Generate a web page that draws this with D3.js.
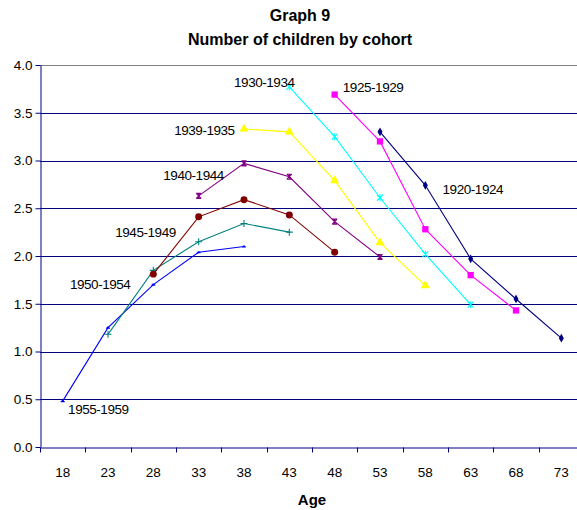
<!DOCTYPE html>
<html>
<head>
<meta charset="utf-8">
<script src="https://cdn.jsdelivr.net/npm/d3@7"></script>
<style>
  body { margin: 0; background: #fff; }
  svg { display: block; font-family: Arial, "Liberation Sans", sans-serif; }
</style>
</head>
<body>
<div id="chart"></div>
<script>
// Graph 9 - number of children by cohort

const ages = [18, 23, 28, 33, 38, 43, 48, 53, 58, 63, 68, 73];
const yTicks = [0, 0.5, 1, 1.5, 2, 2.5, 3, 3.5, 4];

// each cohort: values for ages, null where no value
const c1955 = [0.48, 1.25, 1.70, 2.04, 2.10, null, null, null, null, null, null, null];
const c1950 = [null, 1.18, 1.85, 2.15, 2.34, 2.25, null, null, null, null, null, null];
const c1945 = [null, null, 1.81, 2.41, 2.59, 2.43, 2.04, null, null, null, null, null];
const c1940 = [null, null, null, 2.63, 2.97, 2.83, 2.36, 1.99, null, null, null, null];
const c1935 = [null, null, null, null, 3.33, 3.30, 2.79, 2.14, 1.69, null, null, null];
const c1930 = [null, null, null, null, null, 3.77, 3.25, 2.61, 2.02, 1.49, null, null];
const c1925 = [null, null, null, null, null, null, 3.69, 3.20, 2.28, 1.80, 1.43, null];
const c1920 = [null, null, null, null, null, null, null, 3.30, 2.74, 1.97, 1.55, 1.14];

const series = [
    { name: "1955-1959", values: c1955, color: "#0000ff", marker: "dash" },
    { name: "1950-1954", values: c1950, color: "#008080", marker: "plus" },
    { name: "1945-1949", values: c1945, color: "#800000", marker: "circle" },
    { name: "1940-1944", values: c1940, color: "#800080", marker: "star" },
    { name: "1939-1935", values: c1935, color: "#ffff00", marker: "triangle" },
    { name: "1930-1934", values: c1930, color: "#00ffff", marker: "cross" },
    { name: "1925-1929", values: c1925, color: "#ff00ff", marker: "square" },
    { name: "1920-1924", values: c1920, color: "#000080", marker: "diamond" }
];

// label anchors in data space (age, value) = start of text, baseline
const labels = [
    { text: "1930-1934", age: 36.9, v: 3.77 },
    { text: "1925-1929", age: 48.9, v: 3.72 },
    { text: "1939-1935", age: 30.3, v: 3.27 },
    { text: "1940-1944", age: 29.1, v: 2.80 },
    { text: "1945-1949", age: 23.8, v: 2.20 },
    { text: "1950-1954", age: 18.8, v: 1.65 },
    { text: "1955-1959", age: 18.6, v: 0.35 },
    { text: "1920-1924", age: 59.9, v: 2.65 }
];

const width = 577, height = 510;
const margin = { top: 65, right: -7, bottom: 63, left: 40 };
const plotW = width - margin.left - margin.right;
const plotH = height - margin.top - margin.bottom;

const svg = d3.select("#chart").append("svg")
    .attr("width", width)
    .attr("height", height);

const x = d3.scaleBand().domain(ages).range([0, plotW]);
const xc = a => x(a) + x.bandwidth() / 2;
// continuous age position for labels
const xAge = d3.scaleLinear().domain([ages[0], ages[ages.length - 1]]).range([xc(ages[0]), xc(ages[ages.length - 1])]);
const y = d3.scaleLinear().domain([0, 4]).range([plotH, 0]);

const g = svg.append("g").attr("transform", `translate(${margin.left},${margin.top})`);

// Title
svg.append("text")
    .attr("x", 300).attr("y", 21)
    .attr("text-anchor", "middle")
    .style("font-size", "16px").style("font-weight", "bold")
    .text("Graph 9");
svg.append("text")
    .attr("x", 300).attr("y", 45)
    .attr("text-anchor", "middle")
    .style("font-size", "16px").style("font-weight", "bold")
    .text("Number of children by cohort");

// Gridlines
g.append("g")
    .selectAll("line")
    .data(yTicks.filter(t => t > 0 && t < 4))
    .enter().append("line")
    .attr("x1", 0).attr("x2", plotW)
    .attr("y1", d => Math.round(y(d)) + 0.5).attr("y2", d => Math.round(y(d)) + 0.5)
    .attr("stroke", "#000080").attr("stroke-width", 1);

// top border
g.append("line")
    .attr("x1", 0).attr("x2", plotW)
    .attr("y1", 0.5).attr("y2", 0.5)
    .attr("stroke", "#808080");

// Y axis
const yAxis = g.append("g")
    .attr("transform", "translate(0.5,0)")
    .call(d3.axisLeft(y).tickValues(yTicks).tickFormat(d3.format(".1f")).tickSize(5).tickPadding(3).tickSizeOuter(0))
    .style("font-family", "Arial, 'Liberation Sans', sans-serif")
    .style("font-size", "13.5px");
yAxis.select(".domain").attr("stroke", "#000080");
yAxis.selectAll(".tick line").attr("stroke", "#000080");
yAxis.selectAll(".tick text").attr("fill", "#000");

// X axis
const xAxis = g.append("g")
    .attr("transform", `translate(0,${plotH + 0.5})`)
    .call(d3.axisBottom(x).tickSize(0).tickPadding(20).tickSizeOuter(0))
    .style("font-family", "Arial, 'Liberation Sans', sans-serif")
    .style("font-size", "13.5px");
xAxis.select(".domain").attr("stroke", "#000080");
xAxis.selectAll(".tick text").attr("fill", "#000");
xAxis.selectAll(".sep")
    .data(ages)
    .enter().append("line")
    .attr("class", "sep")
    .attr("x1", d => Math.round(x(d)) + 0.5).attr("x2", d => Math.round(x(d)) + 0.5)
    .attr("y1", 0).attr("y2", 5)
    .attr("stroke", "#000080");

// Axis title
svg.append("text")
    .attr("x", 312).attr("y", 505)
    .attr("text-anchor", "middle")
    .style("font-size", "15px").style("font-weight", "bold")
    .text("Age");

// Lines
const line = d3.line()
    .defined(d => d.v !== null)
    .x(d => xc(d.age))
    .y(d => y(d.v));

function markerPath(type) {
    switch (type) {
        case "dash": return "M-2,0.5L2,0.5M-1,-0.5L1,-0.5";
        case "plus": return "M-3.5,0L3.5,0M0,-3.5L0,3.5";
        case "star": return "M-2.5,-2.5L2.5,2.5M-2.5,2.5L2.5,-2.5M0,-2.5L0,2.5M-2.5,-2.5L2.5,-2.5M-2.5,2.5L2.5,2.5";
        case "cross": return "M-3,-3L3,3M-3,3L3,-3M0,-3.5L0,3.5";
        default: return null;
    }
}

series.forEach(s => {
    const pts = ages.map((a, i) => ({ age: a, v: s.values[i] }));
    const sg = g.append("g");
    sg.append("path")
        .datum(pts)
        .attr("fill", "none")
        .attr("stroke", s.color)
        .attr("stroke-width", 1.1)
        .attr("d", line);

    const dots = pts.filter(d => d.v !== null);
    const m = sg.selectAll(".m")
        .data(dots)
        .enter().append("path")
        .attr("class", "m")
        .attr("transform", d => `translate(${xc(d.age)},${y(d.v)})`);

    if (s.marker === "circle") {
        m.attr("d", d3.symbol(d3.symbolCircle, 38)()).attr("fill", s.color);
    } else if (s.marker === "square") {
        m.attr("d", d3.symbol(d3.symbolSquare, 40)()).attr("fill", s.color);
    } else if (s.marker === "triangle") {
        m.attr("d", d3.symbol(d3.symbolTriangle, 36)()).attr("fill", s.color);
    } else if (s.marker === "diamond") {
        m.attr("d", d3.symbol(d3.symbolDiamond, 22)()).attr("fill", s.color);
    } else {
        m.attr("d", markerPath(s.marker))
            .attr("fill", "none")
            .attr("stroke", s.color)
            .attr("stroke-width", 1.1);
    }
});

// Cohort labels
g.selectAll(".lbl")
    .data(labels)
    .enter().append("text")
    .attr("class", "lbl")
    .attr("x", d => xAge(d.age))
    .attr("y", d => y(d.v))
    .style("font-size", "13.5px")
    .style("letter-spacing", "-0.45px")
    .text(d => d.text);
</script>
</body>
</html>
